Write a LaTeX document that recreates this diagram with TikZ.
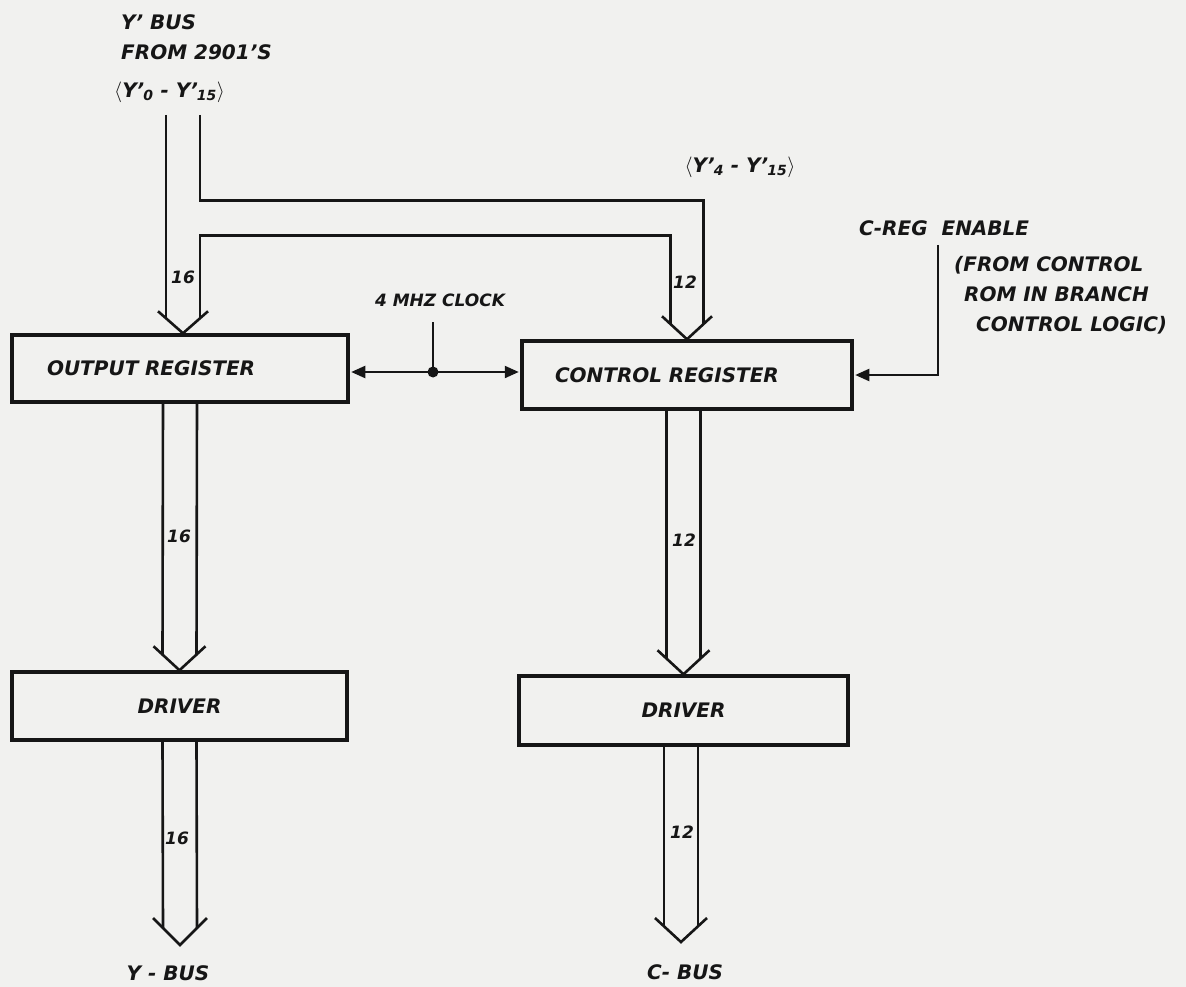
\documentclass[tikz,border=0pt]{standalone}
\usepackage{fontspec}
\setmainfont{DejaVu Sans}
\usetikzlibrary{arrows.meta,calc}

\definecolor{paper}{RGB}{241,241,239}
\definecolor{ink}{RGB}{22,22,22}

\newcommand\yprime[1]{Y'\kern-1pt\textsubscript{#1}}

\begin{document}
\begin{tikzpicture}[x=1pt,y=-1pt,
    hand/.style={text=ink, inner sep=0pt, font=\fontsize{20}{24}\selectfont\bfseries\itshape},
    small/.style={hand, font=\fontsize{17}{20}\selectfont\bfseries\itshape},
    box/.style={hand, draw=ink, line width=3.5pt, minimum height=67pt},
    bus/.style={draw=ink, line width=2.6pt, line join=miter},
    ctl/.style={draw=ink, line width=2.2pt, shorten >=1.5pt, -{Triangle[length=14pt,width=12pt]}}]
                        % Paper
                        \path[fill=paper, use as bounding box] (0,0) rectangle (1186,987);

                        % Nodes
                        \node[box, text width=266pt, inner xsep=35pt, align=left] (outreg) at (180,368.5) {OUTPUT REGISTER};
                        \node[box, text width=264pt, inner xsep=33pt, align=left, minimum height=68pt] (ctrlreg) at (687,375) {CONTROL REGISTER};
                        \node[box, minimum width=335pt, minimum height=68pt] (ydrv) at (179.5,706) {DRIVER};
                        \node[box, minimum width=329pt, minimum height=69pt] (cdrv) at (683.5,710.5) {DRIVER};

                        \node[hand, anchor=west] (ysrc1) at (121,22) {Y' BUS};
                        \node[hand, anchor=west] (ysrc2) at (121,52) {FROM 2901'S};
                        \node[hand, anchor=west] (ysrc3) at (114,92) {$\langle$\yprime{0} - \yprime{15}$\rangle$};
                        \node[hand] (csrc) at (740,167) {$\langle$\yprime{4} - \yprime{15}$\rangle$};
                        \node[small] (clk) at (440,300) {4 MHZ CLOCK};
                        \node[hand, anchor=west] (cen) at (859,228) {C-REG \ ENABLE};
                        \node[hand, anchor=west, align=left, font=\fontsize{20}{30}\selectfont\bfseries\itshape] (cennote) at (954,295)
                            {(FROM CONTROL\\\hspace*{10pt}ROM IN BRANCH\\\hspace*{22pt}CONTROL LOGIC)};
                        \node[hand] (ybuslbl) at (168,973) {Y - BUS};
                        \node[hand] (cbuslbl) at (685,972) {C- BUS};

                        \node[small] (w1) at (183,277) {16};
                        \node[small] (w2) at (685,282) {12};
                        \node[small] (w3) at (179,536) {16};
                        \node[small] (w4) at (684,540) {12};
                        \node[small] (w5) at (177,838) {16};
                        \node[small] (w6) at (682,832) {12};

                        \coordinate (yin) at (183,115);
                        \coordinate (oin) at ($(outreg.north)+(3,0)$);
                        \coordinate (cin) at (ctrlreg.north);
                        \coordinate (clkdot) at (433,372);
                        \coordinate (entop) at (938,245);
                        \coordinate (ybus) at (180,945);
                        \coordinate (cbus) at (681,942);

                        % Edges
                        \draw[bus] ($(yin)+(-17,0)$) -- ($(oin)+(-17,-15)$);
                        \draw[bus] ($(yin)+(17,0)$) |- ($(cin)+(16.5,-139)$) -- ($(cin)+(16.5,-15)$);
                        \draw[bus] ($(oin)+(17,-15)$) |- ($(cin)+(-16.5,-104)$) -- ($(cin)+(-16.5,-15)$);
                        \draw[bus] ($(oin)+(-25,-22)$) -- (oin) -- ($(oin)+(25,-22)$);
                        \draw[bus] ($(cin)+(-25,-23)$) -- (cin) -- ($(cin)+(25,-23)$);

                        \draw[bus] ($(outreg.south)+(-17,0)$) -- ($(ydrv.north)+(-17,-15)$);
                        \draw[bus] ($(outreg.south)+(17,0)$) -- ($(ydrv.north)+(17,-15)$);
                        \draw[bus] ($(ydrv.north)+(-26,-24)$) -- (ydrv.north) -- ($(ydrv.north)+(26,-24)$);

                        \draw[bus] ($(ctrlreg.south -| cdrv.north)+(-17,0)$) -- ($(cdrv.north)+(-17,-15)$);
                        \draw[bus] ($(ctrlreg.south -| cdrv.north)+(17,0)$) -- ($(cdrv.north)+(17,-15)$);
                        \draw[bus] ($(cdrv.north)+(-26,-24)$) -- (cdrv.north) -- ($(cdrv.north)+(26,-24)$);

                        \draw[bus] ($(ydrv.south)+(-17,0)$) -- ($(ybus)+(-17,-17)$);
                        \draw[bus] ($(ydrv.south)+(17,0)$) -- ($(ybus)+(17,-17)$);
                        \draw[bus] ($(ybus)+(-27,-27)$) -- (ybus) -- ($(ybus)+(27,-27)$);

                        \draw[bus] ($(cdrv.south -| cbus)+(-17,0)$) -- ($(cbus)+(-17,-16)$);
                        \draw[bus] ($(cdrv.south -| cbus)+(17,0)$) -- ($(cbus)+(17,-16)$);
                        \draw[bus] ($(cbus)+(-26,-24)$) -- (cbus) -- ($(cbus)+(26,-24)$);

                        \draw[ink, line width=2.2pt] (clkdot) -- ++(0,-50);
                        \fill[ink] (clkdot) circle (5.5pt);
                        \draw[ctl] (clkdot) -- (clkdot -| outreg.east);
                        \draw[ctl] (clkdot) -- (clkdot -| ctrlreg.west);

                        \draw[ctl] (entop) |- (ctrlreg.east);
                    \end{tikzpicture}
\end{document}
